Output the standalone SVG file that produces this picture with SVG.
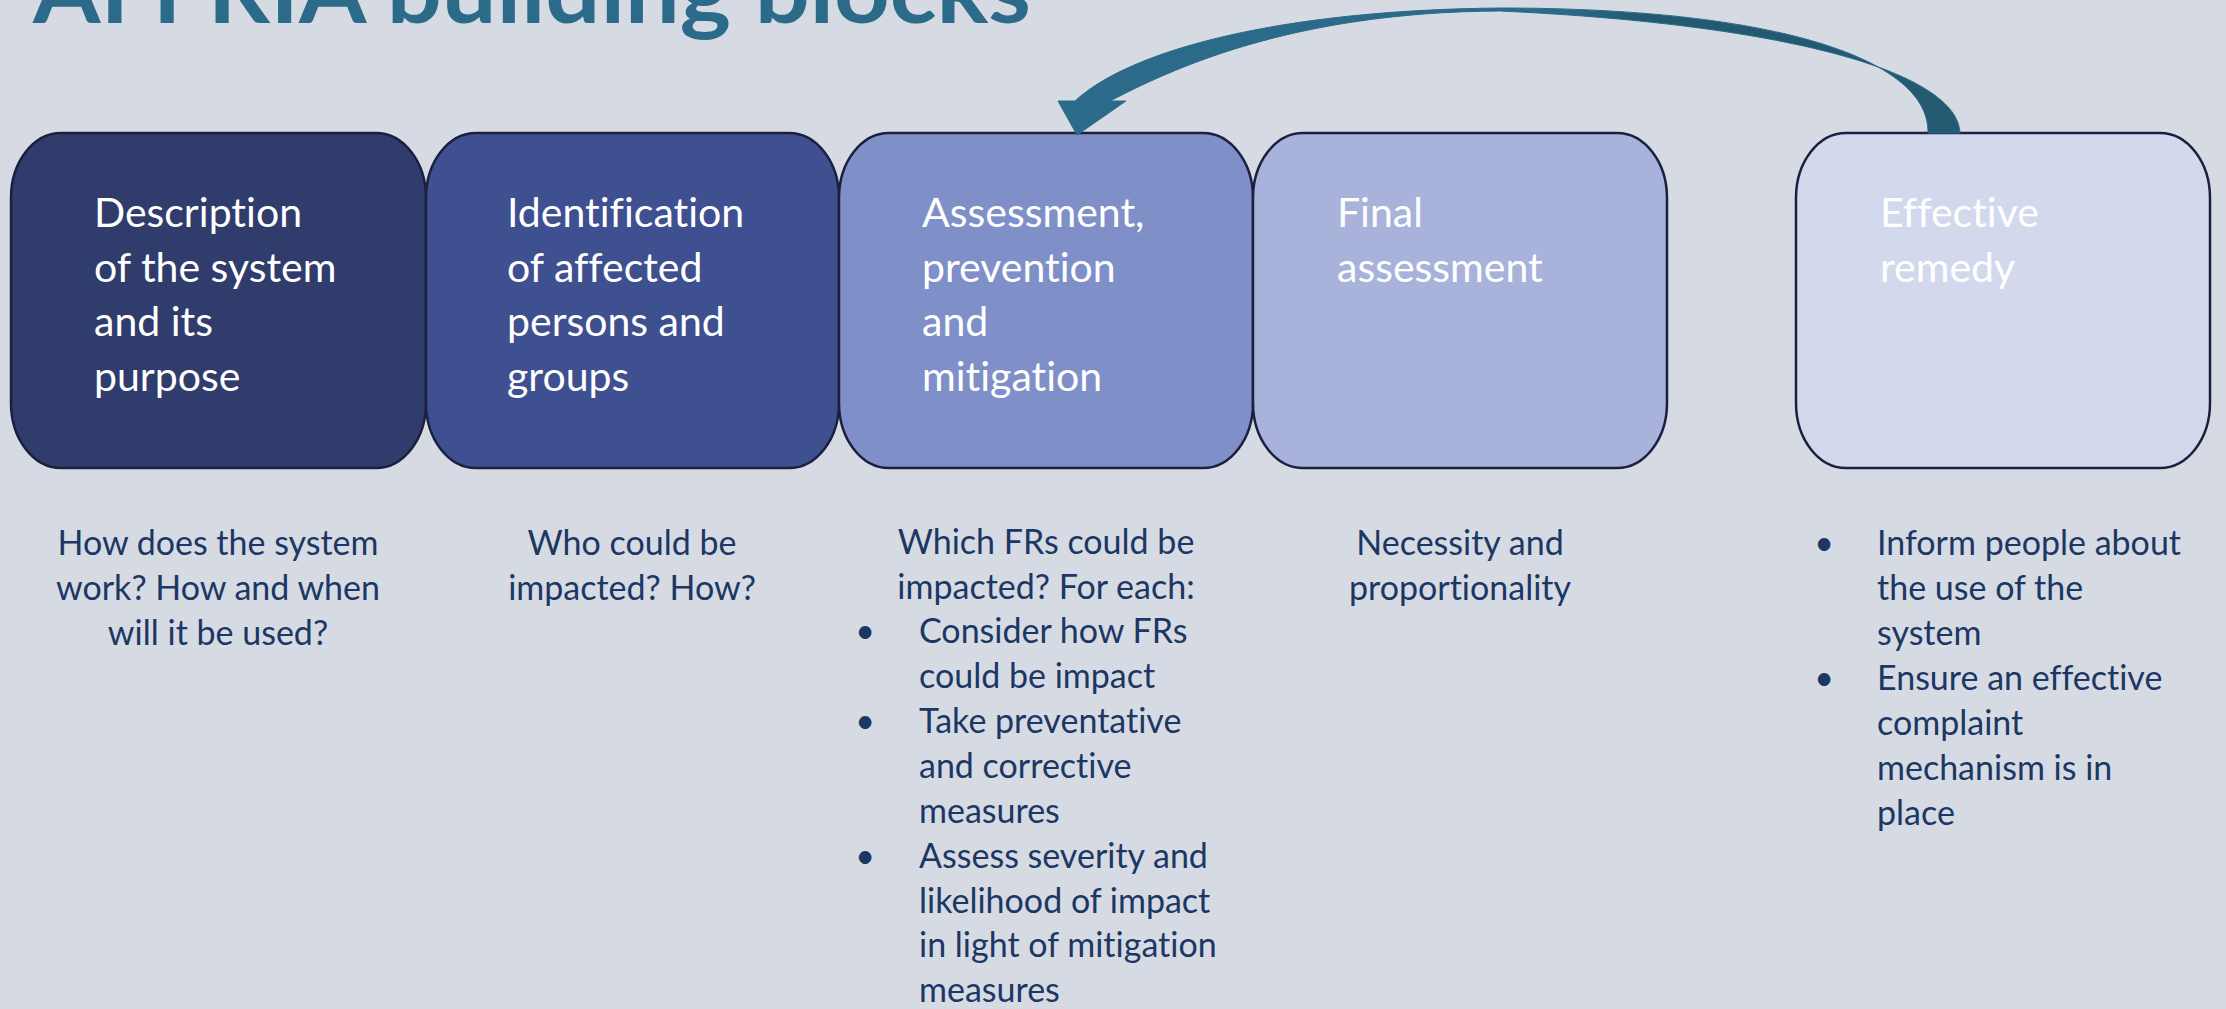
<svg xmlns="http://www.w3.org/2000/svg" width="2226" height="1009" viewBox="0 0 2226 1009">
<style>
text{font-variant-ligatures:none;font-feature-settings:"liga" 0,"dlig" 0}
.box{stroke:#1b2040;stroke-width:2.5}
.bt{font-family:Lato,"Liberation Sans",sans-serif;font-size:41px;fill:#ffffff}
.lt{font-family:Lato,"Liberation Sans",sans-serif;font-size:34px;fill:#1c3763}
.c{text-anchor:middle}
.title{font-family:Lato,"Liberation Sans",sans-serif;font-weight:bold;font-size:92px;fill:#2b6b89}
</style>
<defs>
<linearGradient id="ag" x1="1058" y1="0" x2="1960" y2="0" gradientUnits="userSpaceOnUse">
<stop offset="0" stop-color="#2b6b89"/>
<stop offset="0.56" stop-color="#2b6b89"/>
<stop offset="0.64" stop-color="#235a71"/>
<stop offset="1" stop-color="#235a71"/>
</linearGradient>
</defs>
<rect x="0" y="0" width="2226" height="1009" fill="#d6dbe3"/>
<text class="title" x="33" y="23" textLength="998" lengthAdjust="spacingAndGlyphs">AI FRIA building blocks</text>

<g id="n1">
<rect class="box" x="11" y="133" width="415" height="335" rx="50" ry="65" fill="#2f3c6c"/>
<text class="bt" x="94" y="227">Description</text>
<text class="bt" x="94" y="281.5">of the system</text>
<text class="bt" x="94" y="336">and its</text>
<text class="bt" x="94" y="390.5">purpose</text>
<text class="lt c" x="218" y="555">How does the system</text>
<text class="lt c" x="218" y="600">work? How and when</text>
<text class="lt c" x="218" y="645">will it be used?</text>
</g>

<g id="n2">
<rect class="box" x="426" y="133" width="413" height="335" rx="50" ry="65" fill="#3f5090"/>
<text class="bt" x="507" y="227">Identification</text>
<text class="bt" x="507" y="281.5">of affected</text>
<text class="bt" x="507" y="336">persons and</text>
<text class="bt" x="507" y="390.5">groups</text>
<text class="lt c" x="632" y="555">Who could be</text>
<text class="lt c" x="632" y="600">impacted? How?</text>
</g>

<g id="n3">
<rect class="box" x="839" y="133" width="414" height="335" rx="50" ry="65" fill="#7f8fc8"/>
<text class="bt" x="922" y="227">Assessment,</text>
<text class="bt" x="922" y="281.5">prevention</text>
<text class="bt" x="922" y="336">and</text>
<text class="bt" x="922" y="390.5">mitigation</text>
<text class="lt c" x="1046" y="554">Which FRs could be</text>
<text class="lt c" x="1046" y="599">impacted? For each:</text>
<text class="lt c" x="865" y="643">•</text>
<text class="lt" x="919" y="643">Consider how FRs</text>
<text class="lt" x="919" y="688">could be impact</text>
<text class="lt c" x="865" y="733">•</text>
<text class="lt" x="919" y="733">Take preventative</text>
<text class="lt" x="919" y="778">and corrective</text>
<text class="lt" x="919" y="823">measures</text>
<text class="lt c" x="865" y="868">•</text>
<text class="lt" x="919" y="868">Assess severity and</text>
<text class="lt" x="919" y="913">likelihood of impact</text>
<text class="lt" x="919" y="957">in light of mitigation</text>
<text class="lt" x="919" y="1002">measures</text>
</g>

<g id="n4">
<rect class="box" x="1253" y="133" width="414" height="335" rx="50" ry="65" fill="#a9b2da"/>
<text class="bt" x="1337" y="227">Final</text>
<text class="bt" x="1337" y="281.5">assessment</text>
<text class="lt c" x="1460" y="555">Necessity and</text>
<text class="lt c" x="1460" y="600">proportionality</text>
</g>

<g id="n5">
<rect class="box" x="1796" y="133" width="414" height="335" rx="50" ry="65" fill="#d3d9ec"/>
<text class="bt" x="1880" y="227">Effective</text>
<text class="bt" x="1880" y="281.5">remedy</text>
<text class="lt c" x="1824" y="555">•</text>
<text class="lt" x="1877" y="555">Inform people about</text>
<text class="lt" x="1877" y="600">the use of the</text>
<text class="lt" x="1877" y="645">system</text>
<text class="lt c" x="1824" y="690">•</text>
<text class="lt" x="1877" y="690">Ensure an effective</text>
<text class="lt" x="1877" y="735">complaint</text>
<text class="lt" x="1877" y="780">mechanism is in</text>
<text class="lt" x="1877" y="825">place</text>
</g>

<g id="connectors">
<path d="M1075,101 C1130,50 1280,10 1500,8 C1780,8 1930,60 1928,133 L1960,133 C1958,75 1800,25 1500,11 C1290,12 1170,70 1110,101 L1126,101 L1077,135 L1058,101 Z" fill="url(#ag)" stroke="#2b6b89" stroke-width="1"/>
</g>
</svg>
